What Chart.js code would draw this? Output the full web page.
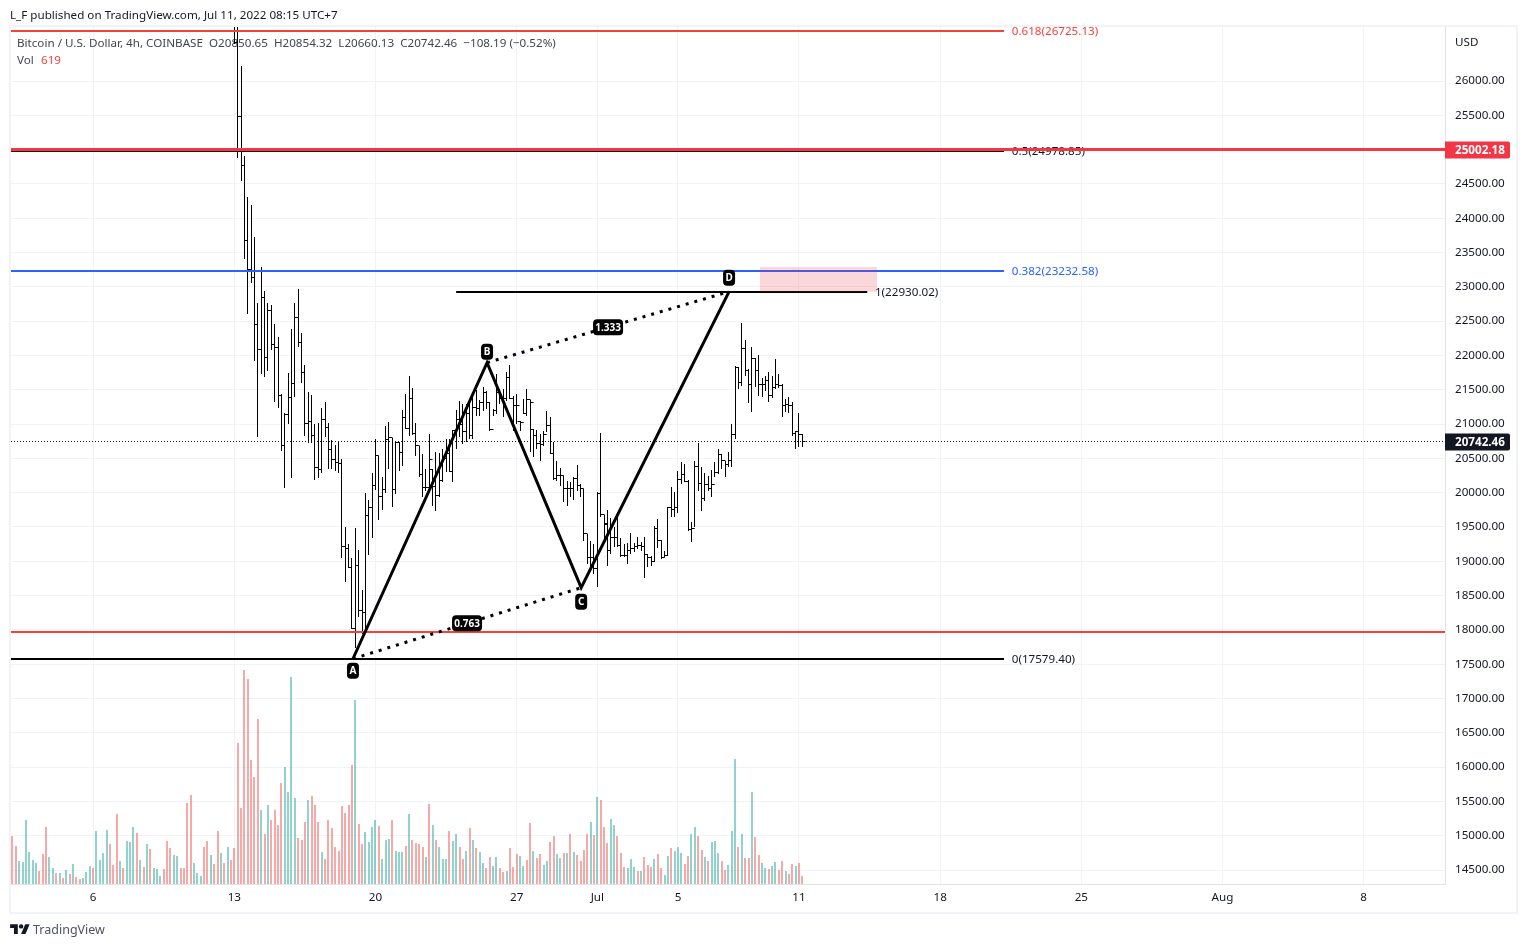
<!DOCTYPE html>
<html><head><meta charset="utf-8">
<style>
html,body{margin:0;padding:0;background:#fff;overflow:hidden}
#wrap{position:relative;width:1525px;height:947px}
canvas{position:absolute;left:0;top:0}
.t{position:absolute;font-family:"Noto Sans",sans-serif;white-space:nowrap}
#frame{position:absolute;left:9px;top:25px;width:1505px;height:885px;border:2px solid #f0f3fa;box-sizing:content-box}
</style>
<script src="https://cdn.jsdelivr.net/npm/chart.js@4"></script>
</head><body><div id="wrap">
<div id="frame"></div>
<canvas id="c" width="1525" height="947"></canvas>
<div class="t" style="left:10px;top:7px;font-size:11.65px;color:#131722">L_F published on TradingView.com, Jul 11, 2022 08:15 UTC+7</div>
<svg style="position:absolute;left:10px;top:922px" width="20" height="15.4" viewBox="0 0 36 28"><path fill="#131722" d="M14 22H7V11H0V4h14v18zM28 22h-8l7.5-18h8L28 22z"/><circle fill="#131722" cx="20" cy="8" r="4"/></svg>
<div class="t" style="left:33px;top:921px;font-size:12.5px;color:#50535e">TradingView</div>
</div>
<script>
const xTickValues=[24,66,108,150,174,198,234,276,318,360,402];
const xTickLabels=["6","13","20","27","Jul","5","11","18","25","Aug","8"];
const yTickValues=[14500,15000,15500,16000,16500,17000,17500,18000,18500,19000,19500,20000,20500,21000,21500,22000,22500,23000,23500,24000,24500,25000,25500,26000];

const firstCandleIndex=66;
const opens=[
26860,26560,25481,24767,23674,23251,23134,22449,22085,22843,
21968,22653,22158,22114,21414,20685,21137,21385,21589,22551,
22187,21749,21006,21035,20831,20365,20335,21064,20948,20627,
20481,20437,20423,19213,19190,18907,18017,18936,18280,18251,
19665,19781,20102,20539,19942,20044,20773,20802,20044,20729,
20583,21093,20933,21370,20860,20685,20272,20078,20078,20340,
20093,19957,20175,20491,20574,20306,20904,21074,21001,20894,
21157,20831,21244,21220,21317,21463,21317,20914,21196,21463,
21366,21366,21681,21366,21268,21040,21026,21147,21351,20928,
20831,20710,20700,20855,20977,20564,20200,20248,20248,20054,
20054,20054,20200,20102,20054,19398,19058,19058,18888,19991,
19680,19544,19155,19349,19349,19237,19091,19091,19155,19184,
19213,19227,19213,19106,19057,19000,19485,19310,19048,19091,
19786,19762,19786,20189,20272,20165,19461,19485,20384,20136,
19922,20126,20068,20112,20296,20554,20466,20408,20476,20855,
21827,21608,22104,21778,21574,21958,21788,21574,21584,21633,
21414,21526,21584,21560,21278,21292,21278,20865,20894,20850.65];
const highs=[
27000,26950,26224,24913,24315,24198,23732,22770,23294,22945,
22770,22740,22464,22274,21443,21166,21749,22391,22770,22974,
22332,21866,21472,21429,21006,21020,21239,21327,21020,20773,
20700,20744,20496,19504,19256,19053,19490,19169,18586,20000,
19898,20292,20787,20539,20233,20977,21035,20802,20744,20744,
21210,21443,21706,21531,21020,20685,20564,20345,20855,20345,
20588,20578,20637,20783,20783,20914,21205,21341,21293,21293,
21341,21463,21497,21351,21536,21487,21317,21220,21730,21511,
21511,21754,21866,21414,21439,21050,21366,21511,21351,20928,
20914,20855,20904,21186,21098,20744,20467,20355,20248,20175,
20151,20224,20408,20127,20054,19398,19301,19252,20005,20870,
19679,19752,19631,19495,19679,19334,19252,19266,19412,19261,
19349,19276,19349,19106,19082,19519,19616,19315,19155,19786,
20078,20005,20321,20452,20418,20185,19568,20466,20724,20369,
20287,20248,20330,20442,20637,20564,20466,20588,21001,21851,
21827,22473,22225,21803,22118,21960,22007,21671,21705,21754,
21696,21948,21730,21584,21365,21399,21317,20904,21161,20854.32];
const lows=[
26545,24883,24548,23411,22609,23061,21914,20816,21735,21691,
21778,22085,21327,21239,20612,20073,21006,20219,21400,22128,
21604,20831,20729,20729,20190,20219,20292,20816,20350,20350,
20321,20292,19053,18703,18907,18017,17740,18193,17945,18017,
19096,19344,20044,19606,19752,20000,20350,19796,19985,20321,
20394,20933,20831,20845,20539,20234,19942,20030,20030,19811,
19738,19932,20151,20297,20297,20151,20637,20807,20710,20734,
20783,20783,21123,21123,21196,21220,20894,21123,21147,21293,
21098,21341,21366,20904,21001,20904,21147,21123,20588,20515,
20637,20467,20686,20880,20564,20185,20175,20102,19859,19811,
19932,19893,20029,19932,19301,18960,18912,18815,18620,19640,
19300,18936,19106,19203,19203,19057,19057,18960,19106,19130,
19179,19155,18751,18911,18936,18984,19188,19033,19057,19082,
19640,19640,19699,20126,20151,19446,19276,19495,20029,19738,
19883,20029,19932,20224,20272,20345,20224,20369,20369,20782,
21511,21560,21705,21302,21171,21535,21414,21399,21487,21317,
21380,21511,21526,21098,21171,21156,20831,20637,20671,20660.13];
const closes=[
26560,25481,24767,23674,23251,23134,22449,22085,22843,21968,
22653,22158,22114,21414,20685,21137,21385,21589,22551,22187,
21749,21006,21035,20831,20365,20335,21064,20948,20627,20481,
20437,20423,19213,19190,18907,18017,18936,18280,18251,19665,
19781,20102,20539,19942,20044,20773,20802,20044,20729,20583,
21093,20933,21370,20860,20685,20272,20078,20078,20481,20093,
19957,20175,20491,20574,20306,20904,21074,21001,20894,21157,
20831,21244,21220,21317,21463,21317,20914,21196,21463,21366,
21366,21681,21366,21268,21268,21026,21147,21351,21317,20831,
20710,20700,20855,20977,20564,20200,20248,20248,20054,20054,
20054,20200,20102,20054,19398,19058,19058,18888,19991,19689,
19529,19155,19349,19349,19237,19091,19091,19155,19184,19213,
19227,19213,19106,19057,19000,19485,19310,19048,19091,19786,
19762,19786,20189,20272,20165,19461,19485,20384,20136,19922,
20126,20068,20112,20296,20554,20466,20408,20476,20855,21827,
21608,22104,21778,21574,21958,21788,21574,21584,21633,21414,
21526,21584,21560,21278,21292,21278,20865,20894,20845,20742.46];

const volumes=[
3600,2850,1725,1650,4800,2400,1800,1575,975,2250,
4275,2025,1200,825,825,450,1050,750,1500,525,
375,450,900,1350,1200,3975,1800,2325,4050,3000,
1425,5250,1725,1200,3225,3150,4275,3825,1800,1275,
3000,2625,1200,1125,600,1125,3225,2700,2175,2100,
1200,1200,6075,6675,1575,825,600,2775,3225,2175,
1500,3975,2325,1575,2775,1800,2700,10575,5700,16050,
15375,9300,8025,12375,5550,3750,5925,4800,5550,4425,
7575,8775,6900,15525,6450,3450,
3300,4650,6300,6600,5925,4650,2400,1875,4800,4200,
2775,2475,5850,5325,5925,8925,13800,4500,3000,3900,
3150,4275,4800,4350,1875,3300,3375,4800,2475,2400,
2400,2850,5250,3300,3075,3000,2775,2025,6000,4425,
3300,2775,1875,1875,3975,3225,3750,2775,1875,2475,
4200,3300,2700,2400,1575,1200,2025,1350,2025,1200,
900,975,2700,1275,2250,2100,1350,1800,4575,2475,
1950,2250,1425,1725,3150,
3600,2250,1950,2325,2325,3750,2400,2175,1725,2550,
3750,4650,3675,6525,6300,4275,3075,4875,4425,3600,
2325,1275,1200,1875,1275,975,975,2025,1425,1275,
1875,2250,1200,675,2100,2700,2475,2775,2325,1500,
2100,3750,4275,3600,2550,2025,1725,3150,3225,2325,
1725,1050,1425,3975,9375,2775,3750,1950,1950,6900,
3525,2175,1575,1200,1125,1350,1650,1050,1725,975,
750,1500,1350,1575,619];
const volumeDirections=[
"rrggggggrr","rggrgrgrgr","rgggrggggr","rrgrgggrgr","grgggrrrgg","rrrrgggrrg","rrgrgrrrrr","rrrrgrgrrr","rggggr",
"rrgrrrgrrr","rrrrrrgrrg","gggrgggrgg","grgrrrrgrg","rgggrggrrg","rgrggrrggr","rgrrrggrrg","rrggr",
"rggrgrgrrr","rgrgrrrggr","rrgggrgrrr","grrggrgggr","rggrrgrggg","rrgggrgrrg","rrggrggrrg","rrgrr"].join("").split("");

const levelValues=[26725.13,24978.85,23232.58,17579.40,22930.02];
const levelColors=["#f44336","#131722","#2962ff","#000000","#000000"];
const levelStart=[-0.44,-0.44,-0.44,-0.44,132];
const levelEnd=[295,295,295,295,254.3];
const levelNames=["0.618(26725.13)","0.5(24978.85)","0.382(23232.58)","0(17579.40)","1(22930.02)"];
const levelLabelIndex=[297.3,297.3,297.3,297.3,256.6];

const horizontalValues=[25002.18,17969];
const horizontalColors=["#f23645","#f44336"];
const horizontalWidths=[3,2];
const lastPrice=20742.46;
const axisStart=-0.437, axisEnd=426.2;

const patternIndex=[101.3,141.2,169.2,213.2];
const patternPrice=[17579.4,21895,18615,22930.02];
const patternLetters=["A","B","C","D"];
const patternLetterOffset=[12,-11,14,-14];
const ratioIndex=[135.25,177.2];
const ratioPrice=[18097,22412];
const ratioLabels=["0.763","1.333"];

const boxIndex=[222.4,257.2];
const boxPrice=[22930,23290];

const FONT='"Noto Sans",sans-serif';
const TXT='11.65px '+FONT;
const candleIdx=opens.map((_,j)=>firstCandleIndex+j);
const idx=volumes.map((_,i)=>i);

function lineDS(xs,ys,color,width,order,extra){
  return Object.assign({type:'line',data:xs.map((x,i)=>({x,y:ys[i]})),borderColor:color,borderWidth:width,pointRadius:0,fill:false,tension:0,order,xAxisID:'x',yAxisID:'y'},extra||{});
}
const datasets=[];
datasets.push(lineDS(patternIndex,patternPrice,'#000',3,1));
datasets.push(lineDS([patternIndex[0],patternIndex[2]],[patternPrice[0],patternPrice[2]],'#000',3,1,{borderDash:[3,6]}));
datasets.push(lineDS([patternIndex[1],patternIndex[3]],[patternPrice[1],patternPrice[3]],'#000',3,1,{borderDash:[3,6]}));
datasets.push(lineDS(boxIndex,[boxPrice[1],boxPrice[1]],'rgba(0,0,0,0)',0,2,{fill:{value:boxPrice[0]},backgroundColor:'rgba(242,54,69,0.2)'}));
horizontalValues.forEach((v,i)=>datasets.push(lineDS([axisStart,axisEnd],[v,v],horizontalColors[i],horizontalWidths[i],3,{snap:true})));
levelValues.forEach((v,i)=>datasets.push(lineDS([levelStart[i],levelEnd[i]],[v,v],levelColors[i],2,4,{snap:true})));
datasets.push(lineDS([axisStart,axisEnd],[lastPrice,lastPrice],'#131722',1,4,{borderDash:[1,2],snap:true}));
datasets.push({type:'line',showLine:false,data:candleIdx.map((x,j)=>({x,y:closes[j]})),pointStyle:'dash',pointRadius:3,pointRotation:0,pointBorderColor:'#000',pointBorderWidth:1,order:5,xAxisID:'x',yAxisID:'y',snapTick:true});
datasets.push({type:'line',showLine:false,data:candleIdx.map((x,j)=>({x,y:opens[j]})),pointStyle:'dash',pointRadius:3,pointRotation:180,pointBorderColor:'#000',pointBorderWidth:1,order:5,xAxisID:'x',yAxisID:'y',snapTick:true});
datasets.push({type:'bar',data:candleIdx.map((x,j)=>({x,y:[lows[j],highs[j]]})),backgroundColor:'#000',grouped:false,maxBarThickness:1,barPercentage:1,categoryPercentage:1,inflateAmount:0,order:6,xAxisID:'x',yAxisID:'y',snapBar:'odd'});
datasets.push({type:'bar',data:idx.map(i=>({x:i,y:volumes[i]})),backgroundColor:volumeDirections.map(d=>d==='r'?'rgba(239,83,80,0.5)':'rgba(38,166,154,0.5)'),grouped:false,maxBarThickness:2,barPercentage:1,categoryPercentage:1,inflateAmount:0,order:7,xAxisID:'x',yAxisID:'yv',snapBar:'even'});

function text(ctx,s,x,y,font,color,align){
  ctx.font=font;ctx.fillStyle=color;ctx.textAlign=align||'left';ctx.textBaseline='middle';
  ctx.fillText(s,x,y);
}
function roundBox(ctx,x,y,w,h,r,color){ctx.fillStyle=color;ctx.beginPath();ctx.roundRect(x,y,w,h,r);ctx.fill();}

const snapPlugin={id:'snap',afterDatasetsUpdate(chart){
  chart.data.datasets.forEach((ds,i)=>{
    const m=chart.getDatasetMeta(i);
    if(ds.snap){const odd=ds.borderWidth%2===1;m.data.forEach(e=>{e.y=odd?Math.floor(e.y)+.5:Math.round(e.y);});}
    if(ds.snapTick){m.data.forEach(e=>{e.x=Math.floor(e.x)+.5;e.y=Math.floor(e.y)+.5;});}
    if(ds.snapBar){m.data.forEach(e=>{e.x=ds.snapBar==='odd'?Math.floor(e.x)+.5:Math.round(e.x);e.y=Math.round(e.y);e.base=Math.round(e.base);});}
  });
}};
const textPlugin={id:'txt',
 beforeDatasetsDraw(chart){
  const {ctx,scales:{x,y},chartArea:a}=chart;
  ctx.save();ctx.beginPath();ctx.rect(a.left,a.top,a.right-a.left,a.bottom-a.top);ctx.clip();
  levelNames.forEach((n,i)=>text(ctx,n,x.getPixelForValue(levelLabelIndex[i]),y.getPixelForValue(levelValues[i])+.8,TXT,levelColors[i]==='#000000'?'#131722':levelColors[i]));
  text(ctx,'Bitcoin / U.S. Dollar, 4h, COINBASE  O20850.65  H20854.32  L20660.13  C20742.46  −108.19 (−0.52%)',17,43.5,TXT,'#434651');
  text(ctx,'Vol',17,60.5,TXT,'#434651');
  text(ctx,'619',41,60.5,TXT,'#f44336');
  ctx.restore();
 },
 afterDatasetsDraw(chart){
  const {ctx,scales:{x,y}}=chart;
  patternLetters.forEach((l,i)=>{
    const px=x.getPixelForValue(patternIndex[i]),py=y.getPixelForValue(patternPrice[i])+patternLetterOffset[i];
    roundBox(ctx,px-6,py-8,12,16,4,'#000');
    text(ctx,l,px,py+.5,'bold 10px '+FONT,'#fff','center');
  });
  ratioLabels.forEach((l,i)=>{
    const px=x.getPixelForValue(ratioIndex[i]),py=y.getPixelForValue(ratioPrice[i]);
    roundBox(ctx,px-15,py-8,30,16,4,'#000');
    text(ctx,l,px,py+.5,'bold 10px '+FONT,'#fff','center');
  });
 },
 afterDraw(chart){
  const {ctx,scales:{y}}=chart;
  text(ctx,'USD',1455,42.5,TXT,'#131722');
  const tag=(v,c)=>{const py=Math.round(y.getPixelForValue(v));
    ctx.fillStyle=c;ctx.beginPath();ctx.roundRect(1445,py-8.5,65,17,[0,2,2,0]);ctx.fill();
    text(ctx,v.toFixed(2),1455,py+.5,'bold 11.65px '+FONT,'#fff');};
  tag(horizontalValues[0],horizontalColors[0]);
  tag(lastPrice,'#131722');
 }};

new Chart(document.getElementById('c'),{
 data:{datasets},
 plugins:[snapPlugin,textPlugin],
 options:{responsive:false,animation:false,devicePixelRatio:1,
  layout:{padding:{left:11,top:27,right:10,bottom:35}},
  plugins:{legend:{display:false},tooltip:{enabled:false}},
  events:[],
  scales:{
   x:{type:'linear',min:axisStart,max:axisEnd,offset:false,
    afterBuildTicks(s){s.ticks=xTickValues.map(v=>({value:v}));},
    afterFit(s){s.height=28;},
    grid:{color:'#f0f3fa',lineWidth:1,drawTicks:false,offset:false},
    border:{color:'#e0e3eb'},
    ticks:{autoSkip:false,maxRotation:0,padding:7,color:'#131722',font:{family:FONT,size:11.65},
     callback(v){const k=xTickValues.indexOf(v);return k>=0?xTickLabels[k]:'';}}},
   y:{type:'linear',position:'right',min:14296,max:26788,
    afterBuildTicks(s){s.ticks=yTickValues.map(v=>({value:v}));},
    afterFit(s){s.width=70;},
    grid:{color:'#f0f3fa',lineWidth:1,drawTicks:false},
    border:{color:'#e0e3eb'},
    ticks:{padding:10,color:'#131722',font:{family:FONT,size:11.65},callback(v){return Number(v).toFixed(2);}}},
   yv:{type:'linear',display:false,min:0,max:64275}
  }
 }
});
</script></body></html>
